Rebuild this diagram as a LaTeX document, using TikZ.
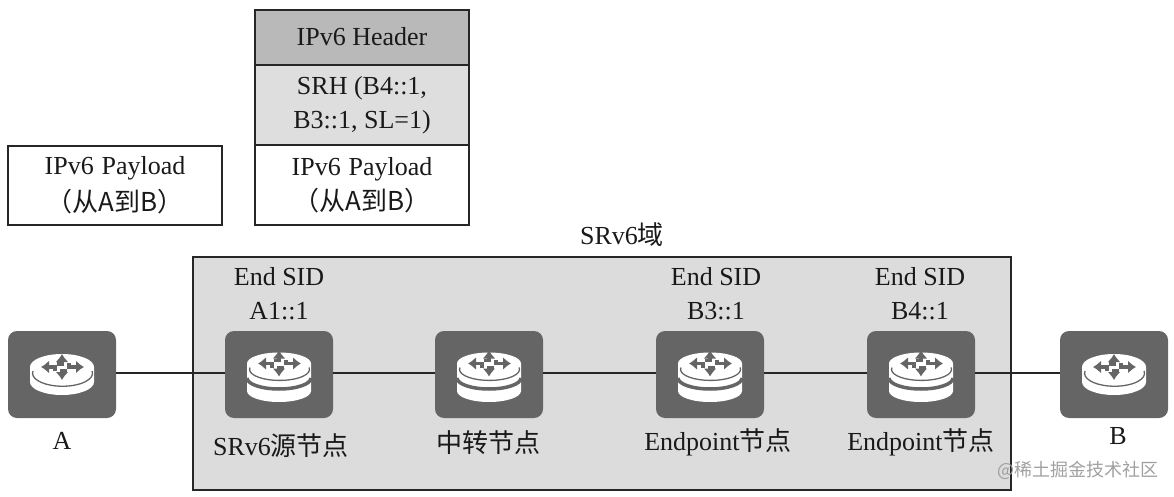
\documentclass[tikz,border=0pt]{standalone}
\usepackage{fontspec}
\setmainfont{Liberation Serif}
\newfontfamily\cjk{Noto Sans CJK SC}
\usetikzlibrary{arrows.meta}
\definecolor{routerdark}{HTML}{666566}
\definecolor{domainfill}{HTML}{DCDCDC}
\definecolor{headerfill}{HTML}{B9B9B9}
\definecolor{srhfill}{HTML}{DEDEDE}
\definecolor{markgray}{HTML}{A0A0A0}
\tikzset{
  x=1pt,y=-1pt,
  every node/.style={font=\fontsize{26}{29}\selectfont,inner sep=0pt,align=center,text=black!90},
  routerbox/.style={fill=routerdark,rounded corners=9pt,minimum width=108pt,minimum height=87pt},
  cell/.style={draw=black!85,line width=2pt,minimum width=214pt,inner sep=0pt},
  link/.style={draw=black!85,line width=2pt},
  arrowmark/.style={draw=routerdark,line width=3.2pt,-{Latex[length=8pt,width=13pt]}},
  pics/disc/.style 2 args={code={
    \fill[white] (-32,0) -- (32,0) -- (32,#1) arc[start angle=0,end angle=-180,x radius=32pt,y radius=#2 pt] -- cycle;
    \fill[white] (0,0) ellipse[x radius=32pt,y radius=#2 pt];
    \draw[routerdark,line width=1.3pt] (-29,4) arc[start angle=170,end angle=370,x radius=30pt,y radius=#2 pt];
    \draw[arrowmark] (-7,4) -- (-7,0) -- (-21,0);
    \draw[arrowmark] (7,-4) -- (7,0) -- (22,0);
    \draw[arrowmark] (-5,-3) -- (0,-3) -- (0,-13);
    \draw[arrowmark] (5,4) -- (0,4) -- (0,13);
  }},
  pics/stripe/.style={code={
    \draw[routerdark,line width=3.5pt] (-32,0) arc[start angle=180,end angle=360,x radius=32pt,y radius=11pt];
  }}
}
\begin{document}
\begin{tikzpicture}
\useasboundingbox (0,0) rectangle (1174,497);
% payload boxes
\node[cell,minimum height=79pt] (plain) at (115,185.5) {IPv6\hspace{0.3em}Payload\\[8pt]{\cjk （从A到B）}};
\node[cell,fill=headerfill,minimum height=55pt] (hdr) at (362,37.5) {\raisebox{2pt}{IPv6 Header}};
\node[cell,fill=srhfill,minimum height=80pt] (srh) at (362,105) {\raisebox{2pt}{SRH (B4::1,}\\[5pt]\raisebox{2pt}{B3::1, SL=1)}};
\node[cell,minimum height=80pt] (pay) at (362,185) {\raisebox{-2pt}{IPv6\hspace{0.3em}Payload}\\[5pt]\raisebox{-3pt}{\cjk （从A到B）}};
% domain
\node[link,draw,fill=domainfill,minimum width=818pt,minimum height=233pt] (domain) at (602,373.5) {};
\node (domainlabel) at (622,235) {SRv6{\cjk 域}};
% routers
\node[routerbox] (A) at (62,374.5) {};
\node[routerbox] (src) at (279,374.5) {};
\node[routerbox] (mid) at (489,374.5) {};
\node[routerbox] (ep1) at (710,374.5) {};
\node[routerbox] (ep2) at (921,374.5) {};
\node[routerbox] (B) at (1114,374.5) {};
% connectors
\draw[link] ([yshift=1.5pt]A.east) -- ([yshift=1.5pt]src.west);
\draw[link] ([yshift=1.5pt]src.east) -- ([yshift=1.5pt]mid.west);
\draw[link] ([yshift=1.5pt]mid.east) -- ([yshift=1.5pt]ep1.west);
\draw[link] ([yshift=1.5pt]ep1.east) -- ([yshift=1.5pt]ep2.west);
\draw[link] ([yshift=1.5pt]ep2.east) -- ([yshift=1.5pt]B.west);
% router glyphs
\pic at (62,367) {disc={15}{13}};
\pic at (1114,367) {disc={15}{13}};
\foreach \cx in {279,489,710,921}{
  \pic at (\cx,363.5) {disc={27.5}{11}};
  \pic at (\cx,378) {stripe};
}
% labels
\node (sa) at (279,294) {End SID\\[5pt]A1::1};
\node (sb) at (716,294) {End SID\\[5pt]B3::1};
\node (sc) at (920,294) {End SID\\[5pt]B4::1};
\node (la) at (62,441) {A};
\node (lb) at (1118,436) {B};
\node (l1) at (281,446) {SRv6{\cjk 源节点}};
\node (l2) at (488,443) {{\cjk 中转节点}};
\node (l3) at (718,442) {Endpoint{\cjk 节点}};
\node (l4) at (921,442) {Endpoint{\cjk 节点}};
\node[text=markgray,font=\fontsize{18}{22}\selectfont] (wm) at (1078,470) {\cjk @稀土掘金技术社区};
\end{tikzpicture}
\end{document}
